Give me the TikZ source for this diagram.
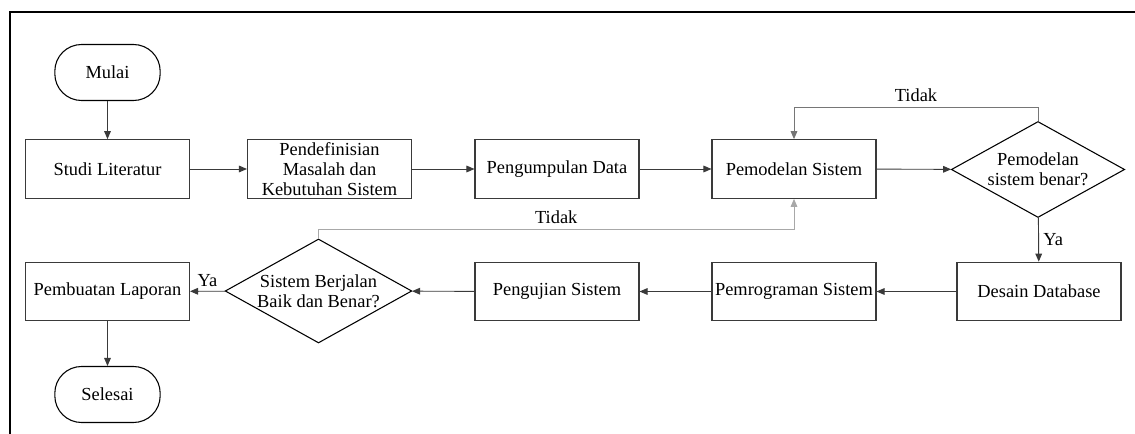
\documentclass[tikz,border=0pt]{standalone}
\usepackage{fontspec}
\setmainfont{Liberation Serif}
\usepackage{tikz}
\usetikzlibrary{shapes.geometric, arrows.meta}

\definecolor{edge}{HTML}{3A3A3A}
\definecolor{backA}{HTML}{767676}
\definecolor{backB}{HTML}{A8A8A8}

\begin{document}
\begin{tikzpicture}[x=0.75pt, y=-0.75pt,
  font=\fontsize{13.8}{15}\selectfont,
  proc/.style={draw=edge, line width=0.8pt, rectangle, minimum width=123pt, minimum height=44pt, inner sep=1pt, align=center},
  term/.style={draw=black, line width=0.8pt, rectangle, rounded corners=20pt, minimum width=79pt, minimum height=42pt},
  decide/.style={draw=black, line width=0.8pt, diamond, aspect=1.8, inner sep=-1pt, minimum width=130pt, minimum height=72pt, align=center},
  flow/.style={draw=edge, line width=0.7pt, -{Triangle[length=6pt, width=5pt]}},
  back/.style={flow, draw=backA}]
\useasboundingbox (0,0) rectangle (1135,434);
\draw[line width=1.6pt] (1135,12) -- (10,12) -- (10,434);

\node[term] (mulai) at (107.5,72.5) {Mulai};
\node[proc] (studi) at (107.5,169) {Studi Literatur};
\node[proc] (definisi) at (329.5,169) {Pendefinisian\\Masalah dan\\Kebutuhan Sistem};
\node[proc] (kumpul) at (557,169) {Pengumpulan Data};
\node[proc] (model) at (794,169) {Pemodelan Sistem};
\node[decide] (cekmodel) at (1038,169.5) {Pemodelan\\sistem benar?};
\node[proc] (desain) at (1039,291.5) {Desain Database};
\node[proc] (program) at (794,291.5) {Pemrograman Sistem};
\node[proc] (uji) at (557,291.5) {Pengujian Sistem};
\node[decide, minimum width=140pt, minimum height=78pt] (cekuji) at (318.5,291) {Sistem Berjalan\\Baik dan Benar?};
\node[proc] (laporan) at (107.5,291.5) {Pembuatan Laporan};
\node[term] (selesai) at (107.5,394.5) {Selesai};

\coordinate (k1) at (794,107);
\coordinate (k2) at (794,229);

\draw[flow] (mulai) -- (studi);
\draw[flow] (studi) -- (definisi);
\draw[flow] (definisi) -- (kumpul);
\draw[flow] (kumpul) -- (model);
\draw[flow] (model) -- (cekmodel);
\draw[flow] (cekmodel) -- node[right] {Ya} (desain);
\draw[flow] (desain) -- (program);
\draw[flow] (program) -- (uji);
\draw[flow] (uji) -- (cekuji);
\draw[flow] (cekuji) -- node[above] {Ya} (laporan);
\draw[flow] (laporan) -- (selesai);
\draw[back] (cekmodel.north) |- node[pos=0.75, above] {Tidak} (k1) -- (model.north);
\draw[back, draw=backB] (cekuji.north) |- node[pos=0.75, above] {Tidak} (k2) -- (model.south);
\end{tikzpicture}
\end{document}
